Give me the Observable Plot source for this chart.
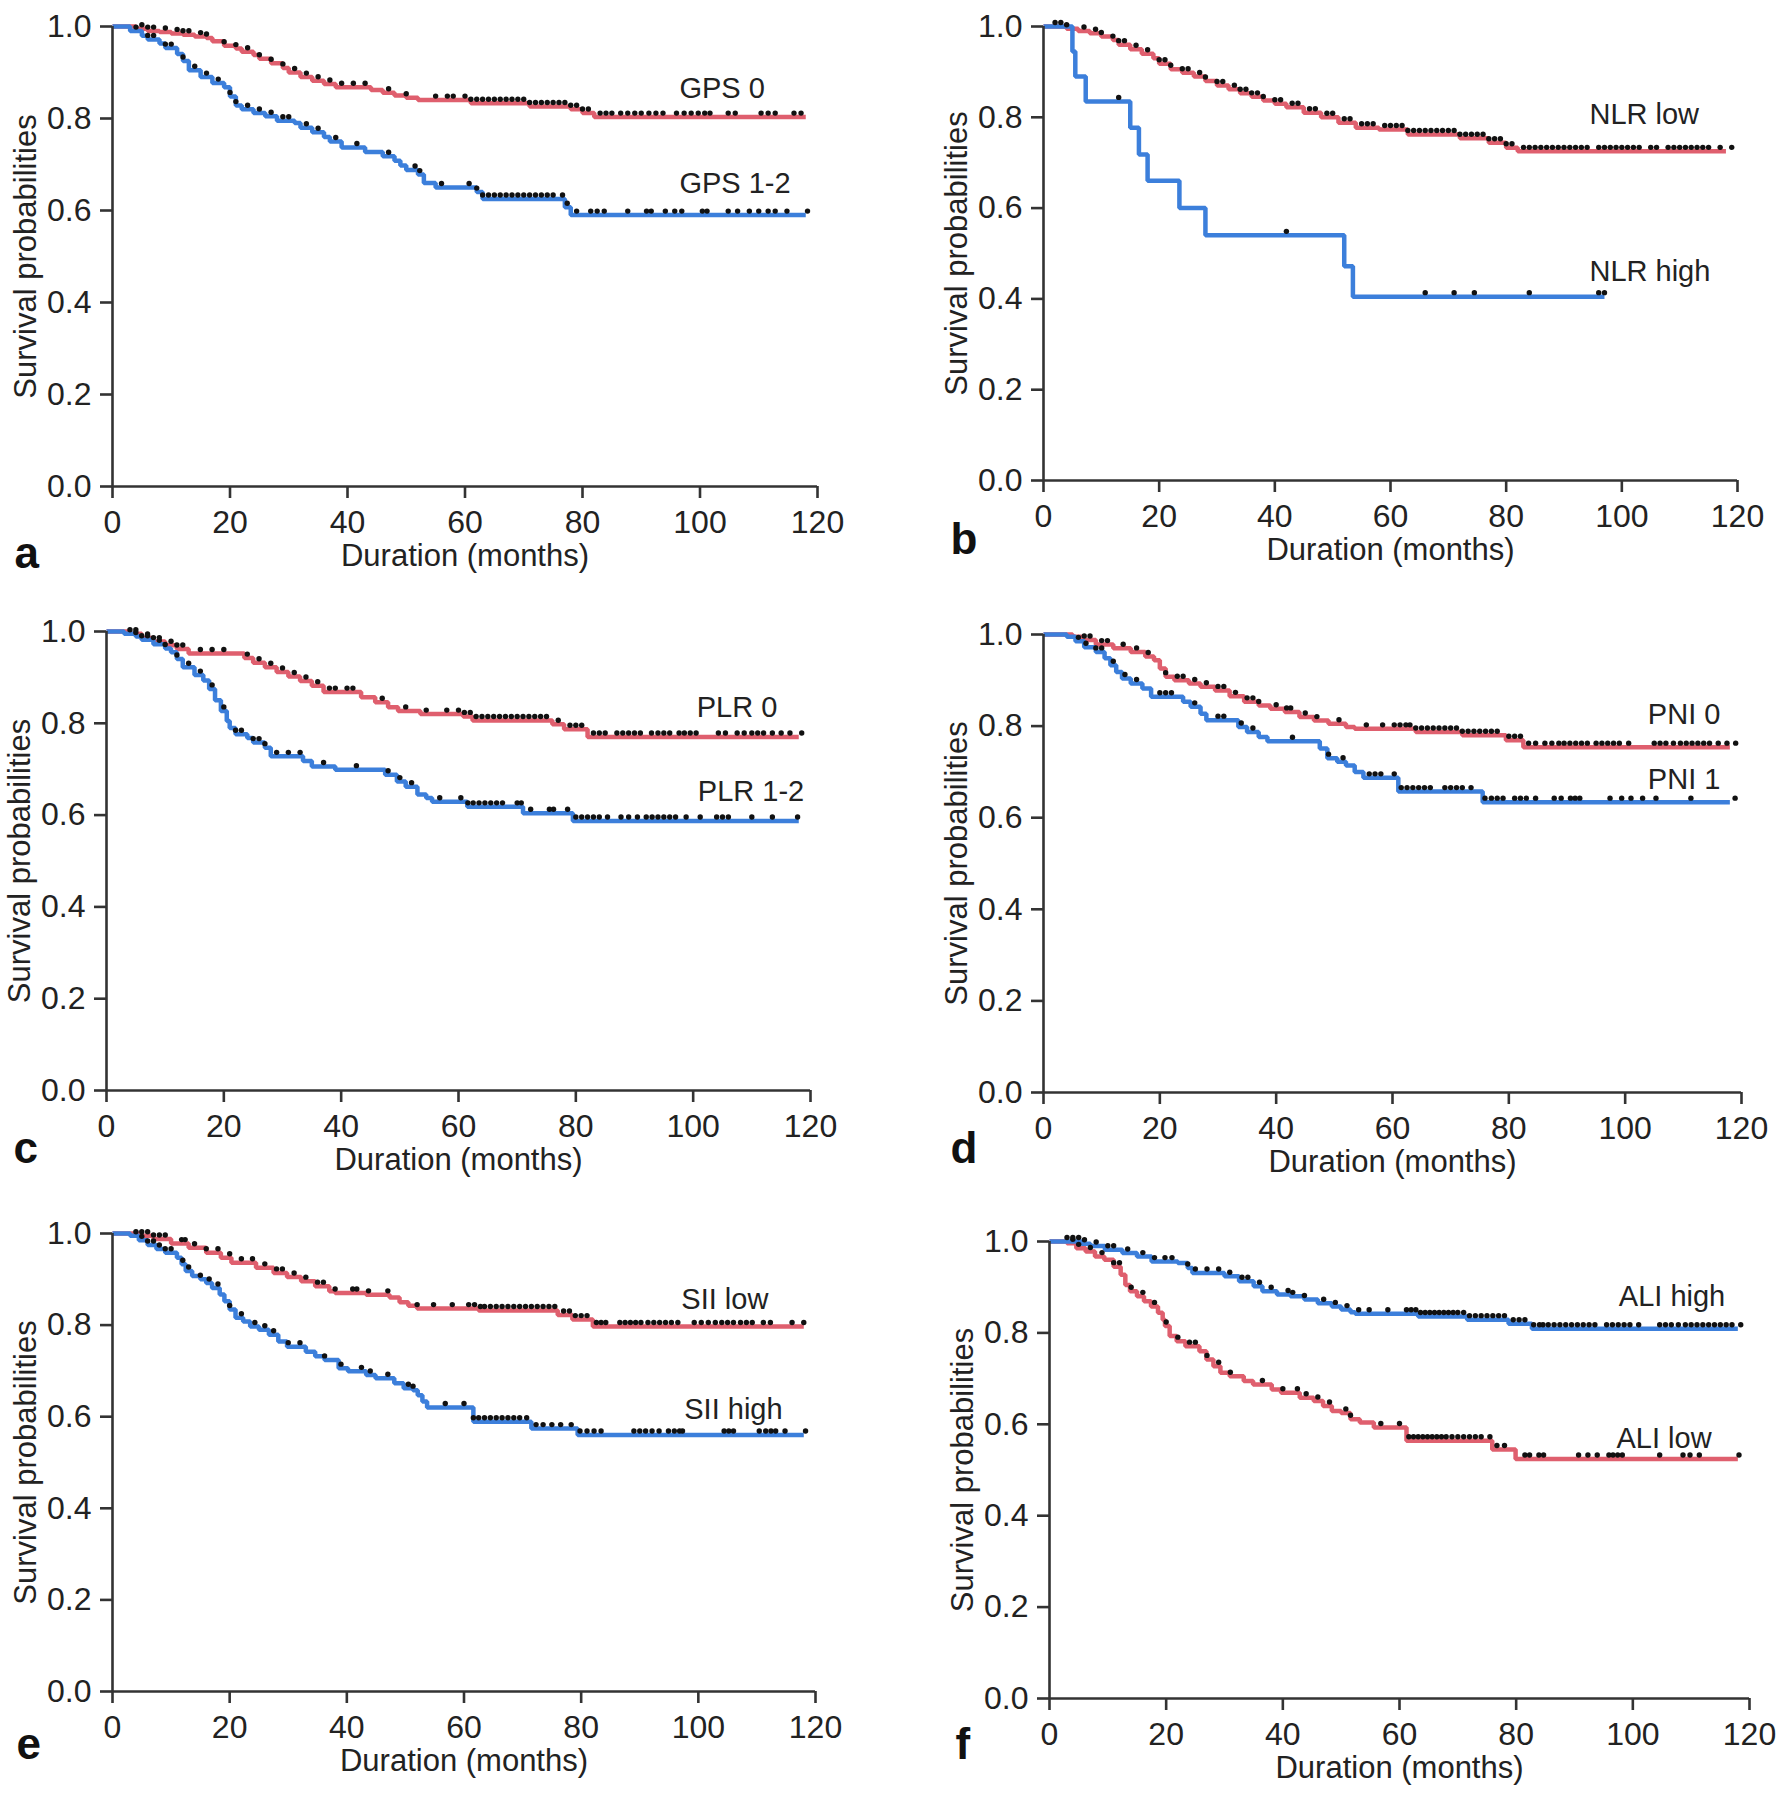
<!DOCTYPE html>
<html><head><meta charset="utf-8">
<script src="https://cdn.jsdelivr.net/npm/d3@7"></script>
<script src="https://cdn.jsdelivr.net/npm/@observablehq/plot@0.6"></script>
<style>
body{margin:0;background:#fff;}
#fig{position:relative;width:1783px;height:1802px;background:#fff;overflow:hidden;}
.panel{position:absolute;}
</style></head><body><div id="fig"></div><script>
// ---------- axes ----------
const xTicks = [0, 20, 40, 60, 80, 100, 120];
const yTicks = [0, 0.2, 0.4, 0.6, 0.8, 1.0];
const xTitle = "Duration (months)";
const yTitle = "Survival probabilities";

// ---------- a: GPS ----------
const GPS0 = [[0,1],[4,0.995],[6,0.99],[8,0.988],[10,0.985],[12,0.982],[14,0.978],[16,0.975],[17,0.968],[19,0.958],[21,0.952],[22,0.945],[24,0.938],[25,0.93],[27,0.92],[29,0.91],[30,0.9],[32,0.89],[34,0.882],[36,0.875],[38,0.868],[44,0.862],[46,0.856],[48,0.85],[50,0.845],[52,0.84],[61,0.833],[71,0.826],[78,0.82],[80,0.812],[82,0.803],[118,0.803]];
const GPS0_cens = [5,6,7,9,11,12,13,15,16,19,21,23,25,27,29,31,33,35,37,39,41,43,47,50,55,57,58,60,61,62,63,64,65,66,67,68,69,70,71,72,73,74,75,76,77,78,79,80,81,83,84,85,86.5,87.7,88.9,90,91.3,92.5,93.7,96,97.3,98.5,99.7,100.8,101.7,104.8,106,110.4,111.6,112.8,116,117.2];
const GPS12 = [[0,1],[3,0.99],[5,0.98],[6,0.972],[8,0.963],[9,0.953],[11,0.94],[12,0.925],[13,0.905],[15,0.89],[17,0.877],[19,0.868],[20,0.848],[21,0.828],[22,0.82],[24,0.812],[26,0.805],[28,0.795],[31,0.79],[32,0.78],[34,0.77],[36,0.76],[37,0.75],[39,0.737],[43,0.727],[46,0.718],[48,0.708],[49,0.698],[50,0.688],[52,0.678],[53,0.66],[55,0.65],[62,0.64],[63,0.625],[77,0.607],[78,0.59],[118,0.59]];
const GPS12_cens = [4,6,7,9,10,12,14,16,18,20,21,23,25,27,29,30,33,35,38,41.6,47,51.5,52.3,56,60.7,62,63,64,65,66,67,68,69,70,71,72,73,74,75,76.6,77.4,79,81.4,82.5,83.7,87.7,90.9,91.7,94.1,95.7,96.9,100.4,101.2,104.8,106.4,108.4,110,111.6,112.8,114.8,118.3];

// ---------- b: NLR ----------
const NLRlow = [[0,1],[4,0.995],[6,0.99],[8,0.985],[10,0.978],[12,0.97],[13,0.96],[15,0.95],[17,0.94],[19,0.93],[20,0.918],[22,0.906],[24,0.898],[26,0.89],[28,0.88],[30,0.87],[32,0.862],[34,0.853],[36,0.845],[38,0.837],[40,0.83],[42,0.822],[45,0.81],[48,0.8],[51,0.788],[54,0.777],[58,0.773],[63,0.762],[72,0.754],[77,0.744],[80,0.733],[82,0.725],[118,0.725]];
const NLRlow_cens = [2,3,4,7,9,10,12,13,14,16,18,20,21,22,24,25,27,28,30,31,33,34,35,36,37,38,40,41,43,44,46,47,49,50,52,53,55,56,57,59,60,61,62,63,64,65,66,67,68,69,70,71,72,73,74,75,76,77,78,79,80,81,83,84,85,86,87,88,89,90,91,92,93,94,96,97,98,99,100,101,102,103,105,106,108,109,110,111,112,113,114,115,117,119];
const NLRhigh = [[0,1],[5,0.945],[5.5,0.89],[7.3,0.835],[15,0.777],[16.5,0.718],[18,0.66],[23.5,0.6],[28,0.54],[52,0.472],[53.5,0.405],[97,0.405]];
const NLRhigh_cens = [13,42,66,71,74.5,84,96,97];

// ---------- c: PLR ----------
const PLR0 = [[0,1],[4,0.995],[6,0.986],[8,0.978],[10,0.97],[12,0.962],[14,0.952],[23.5,0.942],[25,0.932],[27,0.922],[29,0.912],[31,0.902],[33,0.892],[35,0.882],[37,0.868],[43.4,0.857],[45.8,0.846],[48,0.835],[49.7,0.827],[53.5,0.82],[60.8,0.815],[62.4,0.806],[76,0.798],[78,0.787],[82,0.77],[118,0.77]];
const PLR0_cens = [5,7,8,9,11,12,13,16,18,20,24,26,28,30,32,34,36,38,39,41,42,47,51,54.5,58,60,61,62,63,64,65,66,67,68,69,70,71,72,73,74,75,77,79,80,81,83,84,85,87,88,89,90,91,92.9,94,95,96,97.6,98.5,99.5,100.5,104.3,105.5,107.5,108.7,110,111,112,113.5,115,116.5,118.5];
const PLR12 = [[0,1],[3,0.995],[5,0.989],[6,0.982],[8,0.972],[10,0.963],[11,0.955],[12,0.94],[13,0.922],[15,0.905],[16.5,0.893],[17.5,0.875],[18.5,0.85],[19.5,0.827],[20.5,0.805],[21,0.79],[22,0.776],[24,0.768],[25,0.758],[27,0.747],[28,0.728],[33.5,0.718],[35,0.706],[39,0.699],[47.5,0.688],[49.5,0.673],[51,0.662],[53,0.645],[54.5,0.637],[55.5,0.629],[61.5,0.618],[71,0.604],[79.5,0.587],[118,0.587]];
const PLR12_cens = [4,5,6,7,9,10,12,14,16,18,20,22,23,25,26,27,29,31,33,37,42.6,48,50,52,56.8,60.4,61.6,62.5,63.5,64.5,65.5,66.5,67.5,70,70.7,72.3,75.5,76.2,78.6,80,81,82,83,84,85.4,87.7,89,90.5,92,93,94,95,96,97,98.8,101.2,104,105,106,110,113.5,117.8];

// ---------- d: PNI ----------
const PNI0 = [[0,1],[5,0.995],[6.5,0.988],[9,0.978],[12,0.97],[15,0.962],[17.5,0.952],[19,0.944],[20,0.926],[21,0.908],[22.5,0.9],[25,0.893],[27,0.886],[29.5,0.878],[32,0.865],[34.5,0.853],[37,0.845],[39,0.838],[41.5,0.831],[44,0.82],[46.5,0.812],[49,0.805],[52,0.798],[53.5,0.794],[64,0.787],[72,0.78],[79.5,0.769],[82.5,0.754],[118,0.754]];
const PNI0_cens = [7,8,10,11,13.7,16,18,21,23,24,26,28,30,31,33,35,36,37,40,41.8,42.5,45,47,50.8,55.5,58.3,60.3,61.3,62.3,63,64,65,66,67,68,69,70,71,72,73,74,75,76,77,78,80,81,82,83.4,84.6,86.2,87.4,88.6,89.5,90.5,91.5,92.5,93.5,95,96,97,98,99,100.6,105,106,107,108.3,109.5,110.5,111.5,112.5,113.5,114.5,116,117.5,119];
const PNI1 = [[0,1],[4,0.995],[5.5,0.985],[7,0.972],[9,0.962],[10.5,0.948],[11.5,0.933],[12.5,0.918],[13.5,0.904],[15,0.893],[17,0.882],[18.5,0.864],[24,0.853],[25.3,0.842],[27,0.827],[28,0.813],[33.5,0.798],[35,0.787],[37,0.776],[38.5,0.767],[47.5,0.751],[48.8,0.73],[50.5,0.722],[52,0.714],[53.5,0.7],[55,0.687],[61,0.657],[75.5,0.634],[118,0.634]];
const PNI1_cens = [6,7.3,9,10,12,14,16,20,21,22,26,30,31,34,36,42.8,49,51.5,56,57,58,60.3,61.5,62.5,63.5,64.5,65.5,66.5,69,70,71,72,73.5,75.9,77,78,79,81,82,83,84.6,87.8,89,90.6,91.4,92.2,97.4,99.4,101,103,105.3,111.3,118.9];

// ---------- e: SII ----------
const SIIlow = [[0,1],[5,0.995],[7,0.988],[10,0.978],[13,0.969],[16,0.958],[18.5,0.947],[20.3,0.936],[24.5,0.925],[27.5,0.914],[29.8,0.905],[32.2,0.896],[34.6,0.885],[37,0.874],[38,0.87],[43.3,0.866],[47.3,0.86],[49,0.85],[50.5,0.842],[52,0.836],[62.5,0.832],[76,0.822],[78.5,0.812],[82,0.797],[118,0.797]];
const SIIlow_cens = [5,6,7,8,9,11.8,12.4,14,16,18,20,22,23.9,26,28,29,31,33,35,36,38,41,41.7,43.7,47,52,54.8,58,60.8,61.8,62.8,63.5,64.5,65.5,66.5,67.5,68.5,69.5,70.5,71.5,72.5,73.5,74.5,75.5,77,78,79,80,81,82.6,83.4,84.2,86.6,87.5,88.4,89.3,90.2,91.4,92.4,93.4,94.4,95.4,96.5,99.3,100.5,101.7,102.9,104,105,106,107.2,108.2,109.2,111.1,112.3,116,118];
const SIIhigh = [[0,1],[3,0.995],[4.5,0.985],[6,0.975],[7.5,0.966],[9,0.958],[11,0.947],[11.8,0.933],[12.5,0.918],[13.6,0.907],[15,0.9],[16,0.892],[17,0.881],[18.3,0.867],[19.1,0.852],[20,0.834],[21,0.816],[22.3,0.808],[23.5,0.797],[25,0.79],[26.7,0.779],[28.3,0.764],[29.8,0.753],[33,0.742],[34.6,0.732],[36.2,0.724],[38.6,0.706],[40.2,0.699],[43.3,0.691],[44.9,0.684],[48.1,0.673],[49.7,0.662],[51.3,0.658],[52.1,0.647],[52.9,0.633],[53.7,0.62],[61.6,0.589],[71.5,0.574],[79.4,0.56],[118,0.56]];
const SIIhigh_cens = [4,5,6,7,8,9,10,12,13,15,16.5,18,20,22,24.3,26,27.5,30,32,36.2,39,42.5,44,47,50.5,51.3,56.8,60,61.6,62.5,63.5,64.5,65.5,66.5,67.5,68.5,69.5,70.7,72.3,73.5,75,76.5,78.3,79.8,81,82.2,83.4,89,90,91,92.1,93.3,94.9,95.9,96.8,97.3,104.4,105.2,106,110.4,111.5,112.4,113.2,114.8,118.3];

// ---------- f: ALI ----------
const ALIhigh = [[0,1],[5.5,0.995],[7,0.99],[9.5,0.982],[12.5,0.975],[15,0.967],[17.5,0.956],[22,0.953],[23.7,0.942],[24.5,0.931],[30,0.924],[32.5,0.913],[35,0.902],[36.5,0.891],[39,0.884],[41.3,0.88],[43.7,0.873],[46,0.865],[48.4,0.858],[50,0.851],[51.6,0.845],[52.4,0.842],[63.2,0.836],[71.6,0.829],[78.7,0.82],[82.7,0.809],[118,0.809]];
const ALIhigh_cens = [3,4,5,6,8,10,11,13.4,16,18,19.8,21,23.7,25,27,29,30.9,33,34,36,38,40.9,41.7,43.7,47,49,51,53,54.8,58,61.2,62,62.8,63.6,64.4,65.2,66,66.8,67.6,68.4,69.2,70,71,72,73,74,75,76,77,78,79.5,80.5,81.5,83,84,84.6,85.5,86.5,87.5,88.5,89.5,90.5,91.5,92.5,93.5,95.5,96.5,97.5,98.5,99.5,101,104.6,105.6,106.6,107.8,109,110,111,112,113,114,115,116,117,118.5];
const ALIlow = [[0,1],[3,0.996],[4.6,0.985],[6.2,0.978],[7.8,0.967],[9.4,0.96],[11,0.945],[12.2,0.927],[13,0.905],[13.8,0.891],[15,0.88],[16.2,0.869],[17.4,0.858],[18.6,0.844],[19.4,0.829],[19.8,0.815],[20.6,0.793],[21.8,0.782],[23.3,0.771],[25.7,0.76],[26.9,0.742],[28.1,0.727],[29.3,0.713],[30.9,0.705],[33.3,0.695],[34.9,0.687],[38.1,0.676],[39.7,0.669],[42.9,0.658],[45.3,0.651],[46.9,0.64],[48.4,0.629],[50,0.625],[51.6,0.611],[53.2,0.604],[55.6,0.593],[61.2,0.564],[75.9,0.545],[79.9,0.524],[118,0.524]];
const ALIlow_cens = [4,5,7,9,11,12,14,16,18,20,22,24,25,27,29,31,36.5,40,42.5,44,46,48,50.8,51.6,56.8,60,61.6,62.4,63.2,64,64.8,65.6,66.4,67.2,68,69,70,71,72,73,74,75.5,76.7,78,81.5,82.3,83.9,84.7,90.7,92.3,93.9,95.9,96.6,97.4,98.2,104.6,108.6,109.8,111.4,118.2];

// ---------- curve labels (text, month, survival at cap-top) ----------
const labelsA = [["GPS 0", 96.5, 0.890], ["GPS 1-2", 96.5, 0.683]];
const labelsB = [["NLR low", 94.4, 0.830], ["NLR high", 94.4, 0.485]];
const labelsC = [["PLR 0", 100.6, 0.859], ["PLR 1-2", 100.8, 0.675]];
const labelsD = [["PNI 0", 103.9, 0.849], ["PNI 1", 103.9, 0.707]];
const labelsE = [["SII low", 97.1, 0.881], ["SII high", 97.6, 0.640]];
const labelsF = [["ALI high", 97.6, 0.903], ["ALI low", 97.2, 0.594]];

const RED = "#df5f6e", BLUE = "#3c7fdb";
const FONT = "'Liberation Sans', Arial, Helvetica, sans-serif";

function stepAt(curve, t) {
  let s = curve[0][1];
  for (const [tt, ss] of curve) { if (tt <= t) s = ss; else break; }
  return s;
}

function panel(p) {
  const marks = [];
  for (const s of p.series) {
    marks.push(Plot.line(s.curve, {x: d => d[0], y: d => d[1], curve: "step-after", stroke: s.color, strokeWidth: 4.5, strokeLinejoin: "miter", strokeLinecap: "butt"}));
  }
  for (const s of p.series) {
    const cens = s.censor.map(t => ({t, v: stepAt(s.curve, t)}));
    marks.push(Plot.dot(cens, {x: "t", y: "v", r: 2.7, fill: "#111", stroke: "none", dy: -4}));
  }
  marks.push(
    Plot.ruleX([0], {y1: 0, y2: 1, stroke: "#333", strokeWidth: 2.6}),
    Plot.ruleY([0], {x1: 0, x2: 120, stroke: "#333", strokeWidth: 2.6}),
    Plot.axisX({ticks: xTicks, tickSize: 12, tickPadding: 12, strokeWidth: 2.6, stroke: "#333", fill: "#222", fontSize: 32, label: null, tickFormat: d => String(d)}),
    Plot.axisY({ticks: yTicks, tickSize: 12, tickPadding: 9, strokeWidth: 2.6, stroke: "#333", fill: "#222", fontSize: 32, label: null, tickFormat: d3.format(".1f")}),
    Plot.text(p.labels, {x: d => d[1], y: d => d[2], text: d => d[0], textAnchor: "start", lineAnchor: "top", fontSize: 29, fill: "#222"}),
    Plot.text([xTitle], {frameAnchor: "bottom", textAnchor: "middle", dy: 57, lineAnchor: "top", fontSize: 31, fill: "#222"}),
    Plot.text([yTitle], {frameAnchor: "left", textAnchor: "middle", dx: p.yTitleDx, rotate: -90, lineAnchor: "top", fontSize: 31, fill: "#222"}),
    Plot.text([p.letter], {frameAnchor: "bottom-left", dx: p.letterDx, dy: p.letterDy, textAnchor: "start", lineAnchor: "top", fontSize: 44, fontWeight: "bold", fill: "#111"})
  );
  const svg = Plot.plot({
    width: p.w, height: p.h,
    marginLeft: p.mL, marginRight: p.mR, marginTop: p.mT, marginBottom: p.mB,
    x: {domain: [0, 120]},
    y: {domain: [0, 1]},
    style: {fontFamily: FONT, background: "white", overflow: "visible", color: "#222"},
    marks
  });
  const wrap = document.createElement("div");
  wrap.className = "panel";
  wrap.style.left = p.left + "px";
  wrap.style.top = p.top + "px";
  wrap.appendChild(svg);
  document.getElementById("fig").appendChild(wrap);
}

panel({left: 0, top: 0, w: 891, h: 600, mL: 112, mR: 74, mT: 26, mB: 114, letter: "a", letterDx: -98, letterDy: 50, yTitleDx: -99,
  series: [{curve: GPS0, censor: GPS0_cens, color: RED}, {curve: GPS12, censor: GPS12_cens, color: BLUE}], labels: labelsA});
panel({left: 891, top: 0, w: 892, h: 600, mL: 152, mR: 46, mT: 26, mB: 120, letter: "b", letterDx: -93, letterDy: 42, yTitleDx: -99,
  series: [{curve: NLRlow, censor: NLRlow_cens, color: RED}, {curve: NLRhigh, censor: NLRhigh_cens, color: BLUE}], labels: labelsB});
panel({left: 0, top: 600, w: 891, h: 600, mL: 106, mR: 81, mT: 31, mB: 110, letter: "c", letterDx: -93, letterDy: 41, yTitleDx: -99,
  series: [{curve: PLR0, censor: PLR0_cens, color: RED}, {curve: PLR12, censor: PLR12_cens, color: BLUE}], labels: labelsC});
panel({left: 891, top: 600, w: 892, h: 600, mL: 152, mR: 42, mT: 34, mB: 108, letter: "d", letterDx: -93, letterDy: 39, yTitleDx: -99,
  series: [{curve: PNI0, censor: PNI0_cens, color: RED}, {curve: PNI1, censor: PNI1_cens, color: BLUE}], labels: labelsD});
panel({left: 0, top: 1200, w: 891, h: 602, mL: 112, mR: 76, mT: 33, mB: 111, letter: "e", letterDx: -96, letterDy: 36, yTitleDx: -99,
  series: [{curve: SIIlow, censor: SIIlow_cens, color: RED}, {curve: SIIhigh, censor: SIIhigh_cens, color: BLUE}], labels: labelsE});
panel({left: 891, top: 1200, w: 892, h: 602, mL: 158, mR: 34, mT: 41, mB: 104, letter: "f", letterDx: -94, letterDy: 29, yTitleDx: -99,
  series: [{curve: ALIlow, censor: ALIlow_cens, color: RED}, {curve: ALIhigh, censor: ALIhigh_cens, color: BLUE}], labels: labelsF});
</script></body></html>
